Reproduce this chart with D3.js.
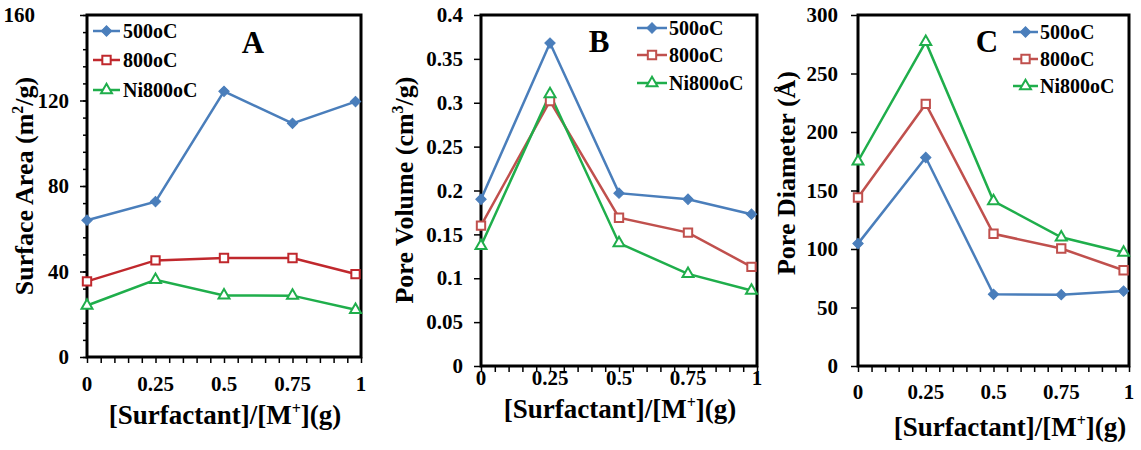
<!DOCTYPE html>
<html>
<head>
<meta charset="utf-8">
<script src="https://cdn.jsdelivr.net/npm/d3@7"></script>
<style>
  body { margin: 0; background: #fff; }
  svg { display: block; font-family: "Liberation Serif", "Times New Roman", serif; font-weight: bold; }
</style>
</head>
<body>
<div id="chart"></div>
<script>
// x positions of the samples ([Surfactant]/[M+])
const xValues = [0, 0.25, 0.5, 0.75, 0.98];
const seriesNames = ["500oC", "800oC", "Ni800oC"];

// A: surface area (m2/g)
const area500 = [64, 72.7, 124.3, 109.3, 119.5];
const area800 = [35.4, 45.2, 46.3, 46.3, 38.8];
const areaNi800 = [24.1, 36.1, 28.8, 28.7, 22.1];

// B: pore volume (cm3/g)
const volume500 = [0.19, 0.368, 0.197, 0.19, 0.173];
const volume800 = [0.16, 0.302, 0.169, 0.152, 0.113];
const volumeNi800 = [0.137, 0.31, 0.14, 0.105, 0.086];

// C: pore diameter (A)
const diameter500 = [104.6, 178.2, 61.3, 61, 64];
const diameter800 = [144, 224, 113, 100.4, 81.8];
const diameterNi800 = [175, 277, 141, 110, 97];

// tick labels
const xTicks = [0, 0.25, 0.5, 0.75, 1];
const areaTicks = [0, 40, 80, 120, 160];
const volumeTicks = [0, 0.05, 0.1, 0.15, 0.2, 0.25, 0.3, 0.35, 0.4];
const diameterTicks = [0, 50, 100, 150, 200, 250, 300];

const blue = "#4a7ebb", green = "#1fae4b";

const svg = d3.select("#chart").append("svg")
  .attr("width", 1141)
  .attr("height", 450);

const panels = [
  {
    letter: "A", series: [area500, area800, areaNi800], ticks: areaTicks, yMax: 160, yMinor: 8,
    red: "#c0282d",
    box: { left: 87, right: 361, top: 15, bottom: 357 },
    tickPad: 11, xLabelY: 391,
    yTitle: { x: 33, y: 186, parts: ["Surface Area (m", "2", "/g)"] },
    xTitle: { x: 225, y: 424 },
    letterPos: { x: 253, y: 53 },
    legend: { x0: 93, x1: 120, tx: 123, ys: [31, 60, 90] },
    shiftTop: -34
  },
  {
    letter: "B", series: [volume500, volume800, volumeNi800], ticks: volumeTicks, yMax: 0.4, yMinor: null,
    red: "#c0504d",
    box: { left: 481, right: 757, top: 15, bottom: 366 },
    tickPad: 11, xLabelY: 385,
    yTitle: { x: 413, y: 190, parts: ["Pore Volume (cm", "3", "/g)"] },
    xTitle: { x: 620, y: 418 },
    letterPos: { x: 599, y: 52 },
    legend: { x0: 637, x1: 667, tx: 669, ys: [28, 55, 83] },
    shiftTop: 0
  },
  {
    letter: "C", series: [diameter500, diameter800, diameterNi800], ticks: diameterTicks, yMax: 300, yMinor: null,
    red: "#c0504d",
    box: { left: 858, right: 1129, top: 15, bottom: 366 },
    tickPad: 13, xLabelY: 399,
    yTitle: { x: 795, y: 173, parts: ["Pore Diameter (Å)"] },
    xTitle: { x: 1010, y: 436 },
    letterPos: { x: 987, y: 52 },
    legend: { x0: 1013, x1: 1038, tx: 1040, ys: [32, 59, 86] },
    shiftTop: 0
  }
];

function marker(sel, i, color) {
  if (i === 0) {
    sel.attr("d", d3.symbol(d3.symbolSquare, 54)())
      .attr("fill", color).attr("stroke", color).attr("stroke-width", 1);
  } else if (i === 1) {
    sel.attr("d", d3.symbol(d3.symbolSquare, 70)())
      .attr("fill", "#fff").attr("stroke", color).attr("stroke-width", 2);
  } else {
    sel.attr("d", d3.symbol(d3.symbolTriangle, 52)())
      .attr("fill", "#fff").attr("stroke", color).attr("stroke-width", 2);
  }
}

panels.forEach(p => {
  const b = p.box;
  const colors = [blue, p.red, green];
  const x = d3.scaleLinear().domain([0, 1]).range([b.left, b.right]);
  const y = d3.scaleLinear().domain([0, p.yMax]).range([b.bottom, b.top]);
  const g = svg.append("g");

  // x axis: major + minor ticks
  const xMinor = d3.range(0, 21).map(k => k / 20);
  g.append("g")
    .attr("transform", `translate(0,${b.bottom})`)
    .call(d3.axisBottom(x).tickValues(xMinor).tickSize(6).tickFormat(""))
    .call(a => a.select(".domain").remove());
  g.append("g")
    .selectAll("text")
    .data(xTicks)
    .join("text")
      .attr("x", d => x(d))
      .attr("y", p.xLabelY)
      .attr("text-anchor", "middle")
      .attr("font-size", 21)
      .text(d => d);

  // y axis
  if (p.yMinor) {
    g.append("g")
      .attr("transform", `translate(${b.left},0)`)
      .call(d3.axisLeft(y).tickValues(d3.range(0, p.yMax + 0.001, p.yMinor)).tickSize(4).tickFormat(""))
      .call(a => a.select(".domain").remove());
  }
  const yAxis = g.append("g")
    .attr("transform", `translate(${b.left},0)`)
    .call(d3.axisLeft(y).tickValues(p.ticks).tickSize(7).tickPadding(p.tickPad).tickFormat(d => d))
    .call(a => a.select(".domain").remove());
  yAxis.attr("font-family", null);
  yAxis.selectAll("text")
    .attr("font-size", 21).attr("fill", "#000")
    .attr("dx", d => d === p.yMax ? p.shiftTop : 0);
  g.selectAll(".tick line").attr("stroke", "#000").attr("stroke-width", 1.5);

  // frame
  g.append("rect")
    .attr("x", b.left).attr("y", b.top)
    .attr("width", b.right - b.left).attr("height", b.bottom - b.top)
    .attr("fill", "none").attr("stroke", "#000").attr("stroke-width", 3);

  // series
  const line = d3.line().x((d, k) => x(xValues[k])).y(d => y(d));
  p.series.forEach((vals, i) => {
    g.append("path")
      .attr("d", line(vals))
      .attr("fill", "none")
      .attr("stroke", colors[i])
      .attr("stroke-width", 2.5);
  });
  p.series.forEach((vals, i) => {
    g.append("g").selectAll("path")
      .data(vals)
      .join("path")
        .attr("transform", (d, k) => `translate(${x(xValues[k])},${y(d)})` + (i === 0 ? " rotate(45)" : ""))
        .call(s => marker(s, i, colors[i]));
  });

  // legend
  const lg = g.append("g");
  seriesNames.forEach((name, i) => {
    const ly = p.legend.ys[i];
    lg.append("line")
      .attr("x1", p.legend.x0).attr("x2", p.legend.x1)
      .attr("y1", ly).attr("y2", ly)
      .attr("stroke", colors[i]).attr("stroke-width", 2.5);
    lg.append("path")
      .attr("transform", `translate(${(p.legend.x0 + p.legend.x1) / 2},${ly})` + (i === 0 ? " rotate(45)" : ""))
      .call(s => marker(s, i, colors[i]));
    lg.append("text")
      .attr("x", p.legend.tx).attr("y", ly).attr("dy", "0.35em")
      .attr("font-size", 20)
      .text(name);
  });

  // panel letter
  g.append("text")
    .attr("x", p.letterPos.x).attr("y", p.letterPos.y)
    .attr("text-anchor", "middle")
    .attr("font-size", 31)
    .text(p.letter);

  // y title
  const yt = g.append("text")
    .attr("transform", `translate(${p.yTitle.x},${p.yTitle.y}) rotate(-90)`)
    .attr("text-anchor", "middle")
    .attr("font-size", 26);
  p.yTitle.parts.forEach((t, k) => {
    const ts = yt.append("tspan").text(t);
    if (k === 1) ts.attr("font-size", 16).attr("dy", -10);
    if (k === 2) ts.attr("dy", 10);
  });

  // x title
  const xt = g.append("text")
    .attr("x", p.xTitle.x).attr("y", p.xTitle.y)
    .attr("text-anchor", "middle")
    .attr("font-size", 27);
  xt.append("tspan").text("[Surfactant]/[M");
  xt.append("tspan").text("+").attr("font-size", 16).attr("dy", -10);
  xt.append("tspan").text("](g)").attr("dy", 10);
});
</script>
</body>
</html>
